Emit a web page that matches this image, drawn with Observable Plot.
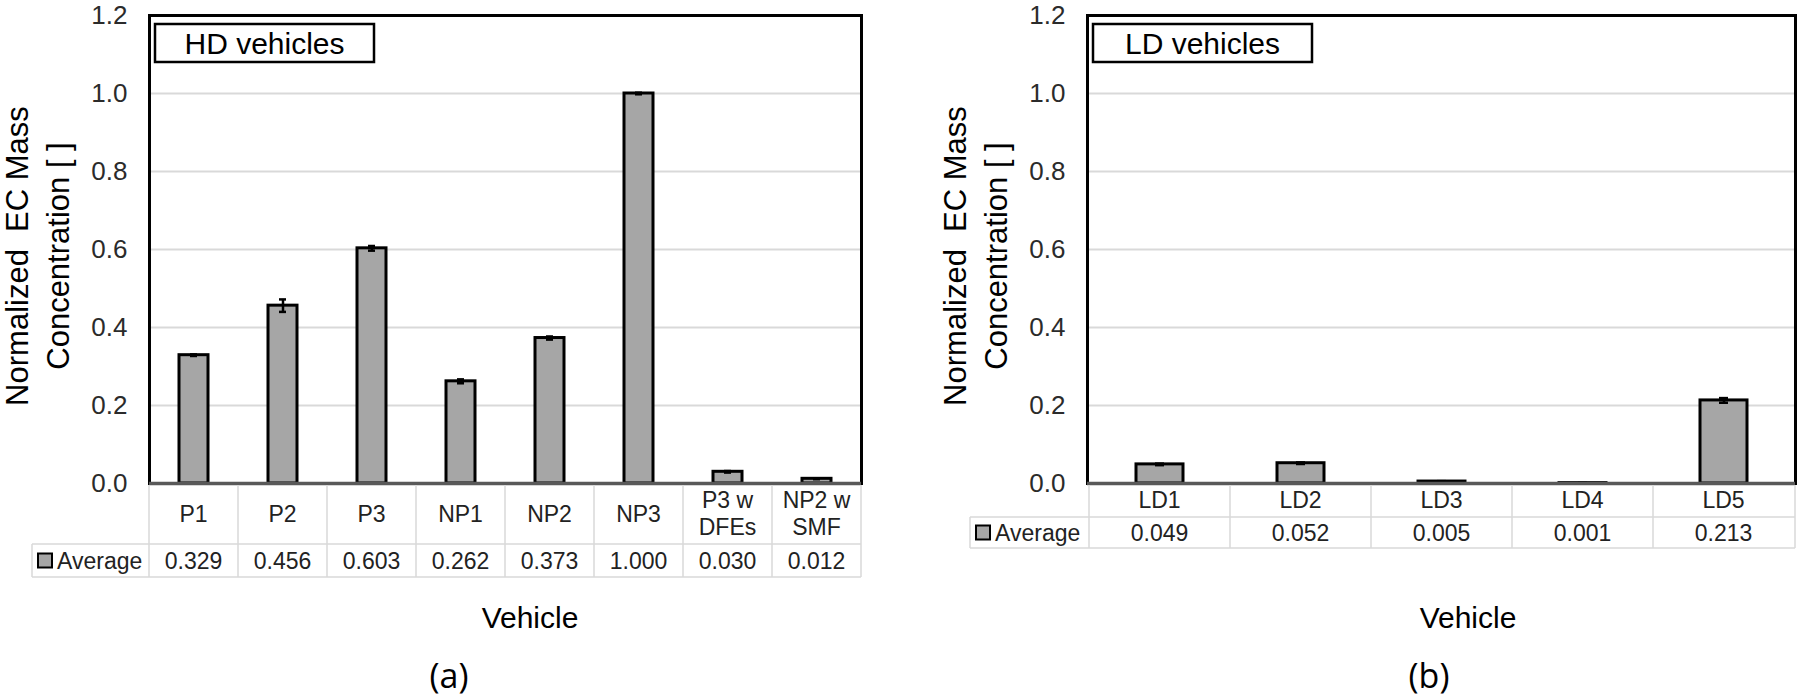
<!DOCTYPE html>
<html>
<head>
<meta charset="utf-8">
<script src="https://cdn.jsdelivr.net/npm/d3@7"></script>
<script src="https://cdn.jsdelivr.net/npm/@observablehq/plot@0.6"></script>
<style>
  html, body { margin: 0; padding: 0; background: #fff; width: 1800px; height: 700px; overflow: hidden; }
  #wrap { position: relative; width: 1800px; height: 700px; background: #fff; }
  #wrap svg { position: absolute; top: 0; }
</style>
</head>
<body>
<div id="wrap"></div>
<script>
// ---- data ----
const hdVehicles = ["P1", "P2", "P3", "NP1", "NP2", "NP3", "P3 w\nDFEs", "NP2 w\nSMF"];
const hdAverage  = [0.329, 0.456, 0.603, 0.262, 0.373, 1.000, 0.030, 0.012];
const hdError    = [0.002, 0.016, 0.006, 0.005, 0.004, 0.002, 0.002, 0.001];

const ldVehicles = ["LD1", "LD2", "LD3", "LD4", "LD5"];
const ldAverage  = [0.049, 0.052, 0.005, 0.001, 0.213];
const ldError    = [0.002, 0.002, 0.001, 0.0005, 0.006];

const yTicks = [0, 0.2, 0.4, 0.6, 0.8, 1.0, 1.2];
const seriesName = "Average";
const xTitle = "Vehicle";
const yTitle = ["Normalized  EC Mass", "Concentration [ ]"];
const panelLabels = ["HD vehicles", "LD vehicles"];
const panelTags = ["(a)", "(b)"];

const FONT = "'Liberation Sans', Arial, Helvetica, sans-serif";
const wrap = document.getElementById("wrap");

function panel(cfg) {
  const {cats, avg, err, boxLabel, tag, left, width, marginLeft, marginRight,
         catRowH, valRowH, capInset, vehicleX, tagX} = cfg;
  const data = cats.map((c, i) => ({cat: c, avg: avg[i], err: err[i]}));

  const chart = Plot.plot({
    width, height: 700,
    marginLeft, marginRight, marginTop: 15, marginBottom: 217,
    style: {fontFamily: FONT, background: "transparent", overflow: "visible"},
    x: {domain: cats, paddingInner: 0.67, paddingOuter: 0.335, axis: null},
    y: {domain: [0, 1.2]},
    marks: [
      Plot.gridY(yTicks.slice(1, -1), {stroke: "#d9d9d9", strokeOpacity: 1, strokeWidth: 2}),
      Plot.axisY(yTicks, {tickSize: 0, tickPadding: 22, fontSize: 26, fill: "#2b2b2b",
                          tickFormat: d3.format(".1f"), label: null}),
      Plot.barY(data, {x: "cat", y: "avg", fill: "#a6a6a6", stroke: "#000", strokeWidth: 3}),
      Plot.ruleX(data, {x: "cat", y1: d => Math.max(0, d.avg - d.err), y2: d => d.avg + d.err,
                        stroke: "#000", strokeWidth: 2.5}),
      Plot.tickY(data, {x: "cat", y: d => d.avg + d.err, stroke: "#000", strokeWidth: 2.5, inset: capInset}),
      Plot.tickY(data, {x: "cat", y: d => Math.max(0, d.avg - d.err), stroke: "#000", strokeWidth: 2.5, inset: capInset}),
      Plot.frame({stroke: "#000", strokeWidth: 3}),
      Plot.ruleY([0], {stroke: "#595959", strokeWidth: 3.5})
    ]
  });

  chart.style.left = left + "px";
  wrap.appendChild(chart);

  // ---- data table under the axis, aligned with the band scale ----
  const xs = chart.scale("x"), ys = chart.scale("y");
  const bw = xs.bandwidth;
  const step = xs.step ?? ((xs.range[1] - xs.range[0]) / cats.length);
  const [xL, xR] = xs.range;
  const y0 = ys.apply(0);
  const tableLeft = xL - 117;
  const r1 = y0 + catRowH, r2 = r1 + valRowH;

  const svg = d3.select(chart);
  const g = svg.append("g").attr("font-family", FONT).attr("text-anchor", "start");
  const gridC = "#d9d9d9";
  const line = (x1, y1, x2, y2) => g.append("line")
      .attr("x1", x1).attr("y1", y1).attr("x2", x2).attr("y2", y2)
      .attr("stroke", gridC).attr("stroke-width", 1.5);

  line(tableLeft, r1, xR, r1);
  line(tableLeft, r2, xR, r2);
  line(tableLeft, r1, tableLeft, r2);
  cats.forEach((c, i) => {
    const a = xs.apply(c) - (step - bw) / 2;
    line(a, y0 + 2, a, r2);
  });
  line(xR, y0 + 2, xR, r2);

  const c1 = y0 + catRowH / 2;
  const lh = 27;
  cats.forEach((c, i) => {
    const cx = xs.apply(c) + bw / 2;
    const parts = c.split("\n");
    parts.forEach((p, j) => {
      const by = c1 + 8 + (j - (parts.length - 1) / 2) * lh;
      g.append("text").attr("x", cx).attr("y", by).attr("text-anchor", "middle")
        .attr("font-size", 23).attr("fill", "#222").text(p);
    });
    g.append("text").attr("x", cx).attr("y", r1 + valRowH / 2 + 8).attr("text-anchor", "middle")
      .attr("font-size", 23).attr("fill", "#222").text(d3.format(".3f")(avg[i]));
  });

  // legend key + series name in the table
  const c2 = r1 + valRowH / 2;
  g.append("rect").attr("x", tableLeft + 6).attr("y", c2 - 7).attr("width", 14).attr("height", 14)
    .attr("fill", "#a6a6a6").attr("stroke", "#000").attr("stroke-width", 2);
  g.append("text").attr("x", tableLeft + 25).attr("y", c2 + 8).attr("font-size", 23)
    .attr("text-anchor", "start").attr("fill", "#222").text(seriesName);

  // y title (two lines, rotated)
  [[yTitle[0], xL - 121], [yTitle[1], xL - 80]].forEach(([t, bx]) => {
    g.append("text").attr("transform", `translate(${bx},256) rotate(-90)`)
      .attr("text-anchor", "middle").attr("font-size", 31).attr("fill", "#000")
      .style("white-space", "pre").text(t);
  });

  // panel label box
  g.append("rect").attr("x", xL + 6).attr("y", 24).attr("width", 219).attr("height", 38)
    .attr("fill", "#fff").attr("stroke", "#000").attr("stroke-width", 2.5);
  g.append("text").attr("x", xL + 6 + 219 / 2).attr("y", 54).attr("text-anchor", "middle")
    .attr("font-size", 30).attr("fill", "#000").text(boxLabel);

  // x title and panel tag
  g.append("text").attr("x", vehicleX).attr("y", 628).attr("text-anchor", "middle")
    .attr("font-size", 30).attr("fill", "#000").text(xTitle);
  g.append("text").attr("x", tagX).attr("y", 688).attr("text-anchor", "middle")
    .attr("font-family", "'Open Sans', 'Noto Sans', sans-serif")
    .attr("font-size", 34).attr("fill", "#000").text(tag);
}

panel({cats: hdVehicles, avg: hdAverage, err: hdError, boxLabel: panelLabels[0], tag: panelTags[0],
       left: 0, width: 880, marginLeft: 149, marginRight: 19, catRowH: 61, valRowH: 33,
       capInset: 11, vehicleX: 530, tagX: 449});
panel({cats: ldVehicles, avg: ldAverage, err: ldError, boxLabel: panelLabels[1], tag: panelTags[1],
       left: 900, width: 900, marginLeft: 187, marginRight: 5, catRowH: 34, valRowH: 31,
       capInset: 19, vehicleX: 568, tagX: 529});
</script>
</body>
</html>
